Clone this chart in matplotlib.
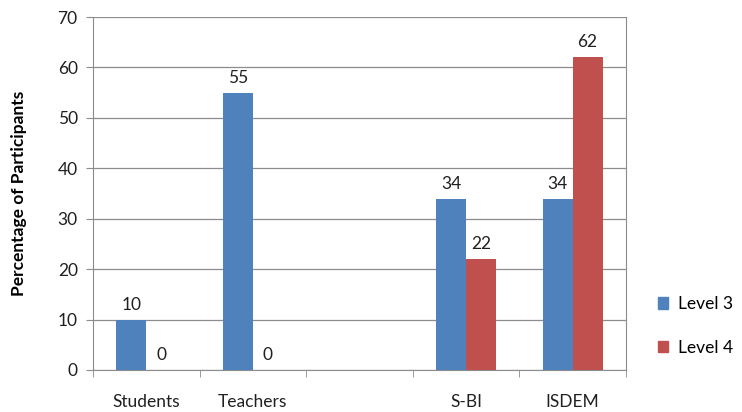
import matplotlib.pyplot as plt
import numpy as np
from matplotlib.patches import Patch

categories = ["Students", "Teachers", "", "S-BI", "ISDEM"]
level3 = [10, 55, None, 34, 34]
level4 = [0, 0, None, 22, 62]
series_names = ["Level 3", "Level 4"]
colors = ["#4F81BD", "#C0504D"]

plt.rcParams['font.family'] = ['Lato', 'DejaVu Sans']
fs = 12.5

fig = plt.figure(figsize=(7.42, 4.12), dpi=100)
ax = fig.add_axes([93 / 742, 1 - 370 / 412, (626 - 93) / 742, (370 - 17) / 412])

x = np.arange(len(categories))
w = 0.28
for vals, off, c in [(level3, -w / 2, colors[0]), (level4, w / 2, colors[1])]:
    for xi, v in zip(x, vals):
        if v is None:
            continue
        ax.bar(xi + off, v, width=w, color=c, zorder=3)
        ax.annotate(str(v), (xi + off, v), xytext=(0, 5), textcoords="offset points",
                    ha="center", va="bottom", fontsize=fs, color="#202020")

ax.set_xlim(-0.5, len(categories) - 0.5)
ax.set_ylim(0, 70)
ax.set_yticks(range(0, 71, 10))
ax.yaxis.grid(True, color="#8c8c8c", linewidth=0.9, zorder=0)
ax.tick_params(axis="y", length=5, color="#8c8c8c", labelsize=fs, pad=6, labelcolor="#202020")

ax.set_xticks(x)
ax.set_xticklabels(categories)
ax.tick_params(axis="x", which="major", length=0, pad=17, labelsize=fs, labelcolor="#202020")
ax.set_xticks(np.arange(-0.5, len(categories)), minor=True)
ax.tick_params(axis="x", which="minor", length=5, color="#8c8c8c")

for s in ["left", "bottom", "right"]:
    ax.spines[s].set_color("#8c8c8c")
ax.spines["top"].set_visible(False)

ax.set_ylabel("Percentage of Participants", fontsize=fs, fontweight="bold", labelpad=22)

handles = [Patch(color=c, label=n) for c, n in zip(colors, series_names)]
fig.legend(handles=handles, loc="center left", bbox_to_anchor=(642 / 742, 1 - 326 / 412),
           frameon=False, fontsize=fs, handlelength=0.6, handleheight=0.6,
           labelspacing=1.6, handletextpad=0.6)

fig.savefig("out.png", dpi=100)
